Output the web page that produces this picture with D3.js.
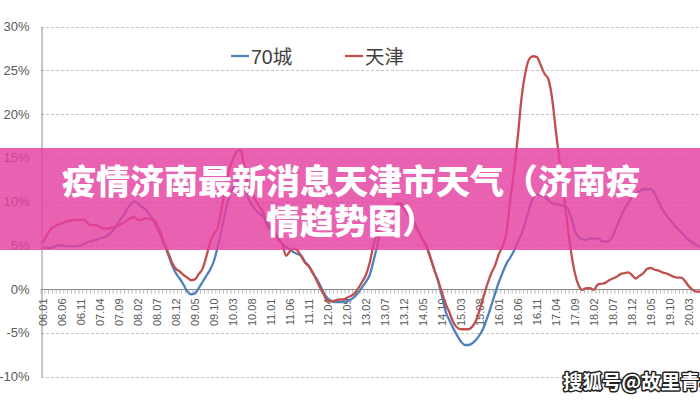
<!DOCTYPE html>
<html>
<head>
<meta charset="utf-8">
<script src="https://cdn.jsdelivr.net/npm/d3@7"></script>
<style>
html,body{margin:0;padding:0;background:#fff;overflow:hidden;}
svg{display:block;}
</style>
</head>
<body>
<svg id="chart" width="700" height="400"></svg>
<script>
// ---------------- DATA ----------------
const seriesNames = ["70城", "天津"];
const startYear = 2006;
const monthCount = 174;

const cityValues = [
 4.7,4.7,4.7,4.8,5.0,5.0,4.9,4.9,4.9,4.9,5.0,5.2,5.4,5.5,5.6,5.8,5.9,6.1,6.5,7.0,
 7.7,8.3,9.0,9.6,10.0,9.8,9.4,9.1,8.5,7.9,7.0,6.1,5.0,3.9,2.7,1.8,1.2,0.5,-0.3,-0.6,
 -0.5,0.1,0.8,1.5,2.2,3.2,4.8,6.7,8.8,10.5,11.5,12.3,12.4,11.5,10.4,9.6,9.0,8.6,8.3,7.6,
 7.0,6.4,5.8,5.2,4.8,4.5,4.2,4.0,3.8,3.1,2.6,1.8,1.2,0.4,-0.5,-1.1,-1.4,-1.5,-1.5,-1.5,
 -1.4,-1.2,-0.9,-0.4,0.2,0.8,1.6,3.2,5.0,7.0,8.0,8.7,9.2,9.5,9.6,9.5,9.2,8.4,7.4,6.4,
 5.6,4.8,3.6,2.2,0.9,-0.8,-2.6,-3.6,-4.5,-5.3,-6.0,-6.4,-6.4,-6.2,-5.8,-5.2,-4.4,-3.2,-1.9,-0.5,
 0.8,1.9,2.9,3.6,4.4,5.4,6.4,7.7,9.2,10.4,10.8,10.7,10.5,10.2,9.8,9.7,9.6,9.5,9.3,8.2,
 6.7,5.9,5.7,5.6,5.8,5.7,5.8,5.5,5.4,5.5,6.1,7.1,8.2,9.1,9.8,10.5,10.9,11.2,11.4,11.4,
 11.4,10.9,10.0,9.1,8.5,7.9,7.4,6.9,6.5,6.0,5.6,5.3,5.0,4.8
];

const tianjinValues = [
 5.3,6.1,6.8,7.1,7.4,7.5,7.7,7.8,7.9,7.9,7.9,7.9,7.4,7.3,7.3,7.1,6.9,6.9,7.0,7.1,
 7.3,7.5,7.8,8.1,8.2,7.9,7.9,8.1,8.0,7.9,7.4,6.4,5.2,4.1,3.0,2.3,2.0,1.6,1.3,1.0,
 1.1,1.7,2.3,3.7,5.3,6.3,7.0,9.2,11.4,13.6,14.8,15.7,15.9,14.0,12.0,10.9,10.1,9.4,8.7,7.2,
 6.8,6.3,5.6,5.1,3.8,4.3,4.6,4.4,3.7,3.0,2.6,1.9,1.0,0.1,-0.7,-1.4,-1.4,-1.3,-1.2,-1.2,
 -1.0,-0.8,-0.5,0.1,0.8,1.6,3.0,5.0,6.5,7.5,8.2,8.8,9.3,9.7,9.8,9.2,8.5,8.0,7.2,6.4,
 5.6,4.8,3.5,2.2,1.0,-0.4,-1.7,-2.7,-3.8,-4.4,-4.6,-4.6,-4.6,-4.3,-3.6,-2.3,-0.8,0.6,1.8,2.7,
 4.0,4.9,6.5,10.2,13.5,17.5,22.0,24.8,26.3,26.6,26.5,25.6,24.6,24.0,21.8,18.0,14.5,11.0,7.5,4.2,
 1.8,0.4,-0.1,0.1,0.1,-0.1,0.5,0.6,0.7,1.0,1.2,1.4,1.7,1.8,1.9,1.6,1.2,1.5,1.8,2.3,
 2.4,2.2,2.1,1.9,1.8,1.6,1.4,1.3,1.3,0.9,0.3,-0.1,-0.3,-0.3
];

const tickLabels = [
 "06.01","06.06","06.11","07.04","07.09","08.02","08.07","08.12","09.05","09.10",
 "10.03","10.08","11.01","11.06","11.11","12.04","12.09","13.02","13.07","13.12",
 "14.05","14.10","15.03","15.08","16.01","16.06","16.11","17.04","17.09","18.02",
 "18.07","18.12","19.05","19.10","20.03"
];
const yTicks = [-10, -5, 0, 5, 10, 15, 20, 25, 30];
const titleLines = ["疫情济南最新消息天津市天气（济南疫", "情趋势图）"];
const watermark = "搜狐号@故里青年";

// month categories
const categories = [];
for (let k = 0; k < monthCount; k++) {
  const yy = String((startYear + Math.floor(k / 12)) % 100).padStart(2, "0");
  const mm = String(k % 12 + 1).padStart(2, "0");
  categories.push(yy + "." + mm);
}

// ---------------- CHART ----------------
const svg = d3.select("#chart");
const left = 41, catW = 3.8;
const x = d3.scaleBand().domain(categories).range([left, left + catW * monthCount]).padding(0);
const cx = c => x(c) + x.bandwidth() / 2;
const y = d3.scaleLinear().domain([-10, 30]).range([376.5, 26.5]);
const gridRight = 700;

const font = "'Liberation Sans', 'Noto Sans CJK SC', sans-serif";

// gridlines
svg.append("g").selectAll("line").data(yTicks.filter(t => t !== 0)).join("line")
  .attr("x1", left).attr("x2", gridRight)
  .attr("y1", d => Math.round(y(d)) + 0.5).attr("y2", d => Math.round(y(d)) + 0.5)
  .attr("stroke", "#c6c6c6").attr("stroke-width", 1).attr("stroke-dasharray", "3,2");

// y axis
const yAxis = d3.axisLeft(y).tickValues(yTicks).tickFormat(d => d + "%").tickSize(0).tickPadding(12);
const gy = svg.append("g").attr("transform", `translate(${left + 0.5},0)`).call(yAxis);
gy.select(".domain").attr("stroke", "#8c8c8c");
gy.selectAll("text").attr("font-family", font).attr("font-size", 13).attr("fill", "#595959");

// x axis at 0
const y0 = Math.round(y(0)) + 0.5;
svg.append("g").selectAll("line").data(categories.concat(["_end"])).join("line")
  .attr("x1", (d, i) => left + i * catW).attr("x2", (d, i) => left + i * catW)
  .attr("y1", y0).attr("y2", y0 + 4)
  .attr("stroke", "#a6a6a6").attr("stroke-width", 0.8);

const tickCats = categories.filter((c, i) => i % 5 === 0 && tickLabels.includes(c));
const xAxis = d3.axisBottom(x).tickValues(tickCats).tickSize(0).tickPadding(0);
const gx = svg.append("g").attr("transform", `translate(0,${y0})`).call(xAxis);
gx.select(".domain").attr("stroke", "#8c8c8c").attr("d", `M${left},0H${gridRight + 5}`);
gx.selectAll("text")
  .attr("font-family", font).attr("font-size", 11).attr("fill", "#595959")
  .attr("text-anchor", "end")
  .attr("transform", "rotate(-90)")
  .attr("x", -9).attr("y", 0).attr("dy", "0.35em");

// lines
const line = vals => d3.line()
  .x((d, i) => cx(categories[i]))
  .y(d => y(d))
  .curve(d3.curveMonotoneX)(vals);

svg.append("path").attr("d", line(cityValues))
  .attr("fill", "none").attr("stroke", "#4F81BD").attr("stroke-width", 2.3);
svg.append("path").attr("d", line(tianjinValues))
  .attr("fill", "none").attr("stroke", "#C0504D").attr("stroke-width", 2.3);

// legend
const legend = [
  {name: seriesNames[0], color: "#4F81BD", x: 231},
  {name: seriesNames[1], color: "#C0504D", x: 345}
];
const lg = svg.append("g");
legend.forEach(l => {
  lg.append("line").attr("x1", l.x).attr("x2", l.x + 18).attr("y1", 56).attr("y2", 56)
    .attr("stroke", l.color).attr("stroke-width", 2.3);
  lg.append("text").attr("x", l.x + 20).attr("y", 63.5).text(l.name)
    .attr("font-family", font).attr("font-size", 19.5).attr("fill", "#404040");
});

// banner
svg.append("rect").attr("x", 0).attr("y", 148).attr("width", 700).attr("height", 102)
  .attr("fill", "rgb(228,64,160)").attr("opacity", 0.82);
svg.append("g").selectAll("text").data(titleLines).join("text")
  .attr("x", 351).attr("y", (d, i) => 194 + i * 40)
  .attr("text-anchor", "middle")
  .attr("font-family", "'Noto Sans CJK SC', sans-serif").attr("font-weight", "900")
  .attr("font-size", 34).attr("fill", "#fff")
  .text(d => d);

// watermark
svg.append("text").attr("x", 563).attr("y", 389).text(watermark)
  .attr("font-family", "'Noto Sans CJK SC', sans-serif").attr("font-weight", "bold")
  .attr("font-size", 19.5).attr("fill", "#fff")
  .attr("stroke", "#222").attr("stroke-width", 3).attr("paint-order", "stroke")
  .attr("stroke-linejoin", "round");
</script>
</body>
</html>
